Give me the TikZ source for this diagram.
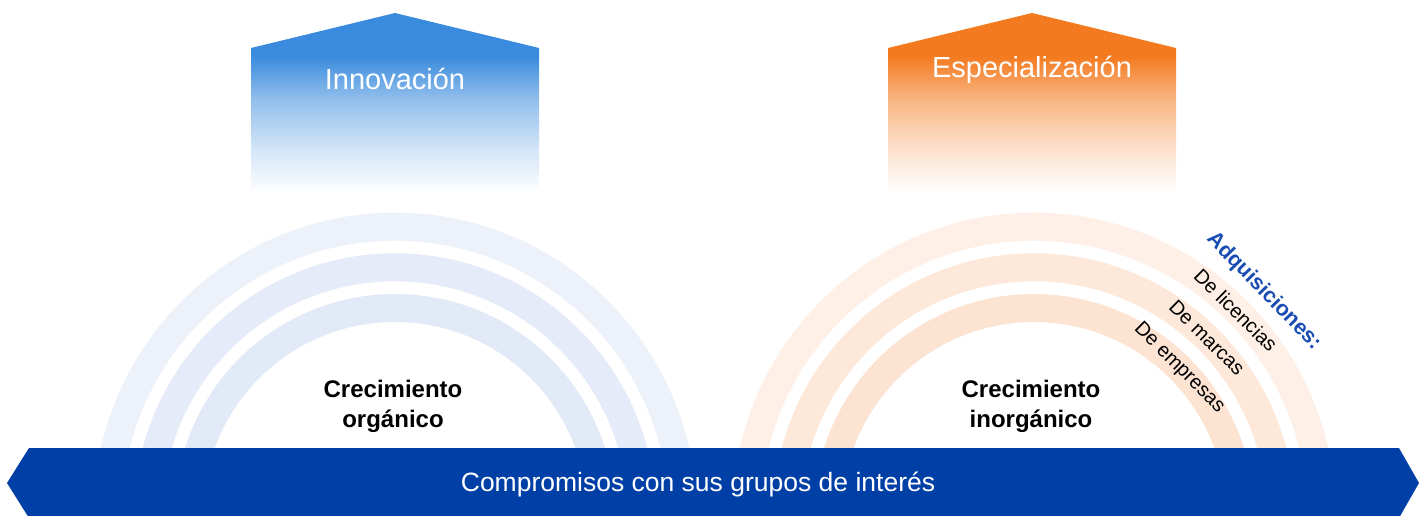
\documentclass[tikz,border=0pt]{standalone}
\usepackage{fontspec}
\setmainfont{Liberation Sans}
\usetikzlibrary{shapes.geometric}
\definecolor{topblue}{HTML}{3A8BDD}
\definecolor{toporange}{HTML}{F47A1F}
\definecolor{bannerblue}{HTML}{003FA6}
\definecolor{labelblue}{HTML}{1A4DB3}
\definecolor{bA}{HTML}{EDF1FA}
\definecolor{bB}{HTML}{E5EBF8}
\definecolor{bC}{HTML}{E2E9F7}
\definecolor{oA}{HTML}{FEF0E6}
\definecolor{oB}{HTML}{FDE8DA}
\definecolor{oC}{HTML}{FCE3D2}
\pgfdeclareverticalshading{bluefade}{100bp}{color(0bp)=(white); color(25.5bp)=(white); color(37.4bp)=(topblue!22!white); color(51.1bp)=(topblue!55!white); color(63.2bp)=(topblue); color(100bp)=(topblue)}
\pgfdeclareverticalshading{orangefade}{100bp}{color(0bp)=(white); color(25.5bp)=(white); color(37.4bp)=(toporange!22!white); color(51.1bp)=(toporange!55!white); color(63.2bp)=(toporange); color(100bp)=(toporange)}
\begin{document}
\begin{tikzpicture}[x=1pt,y=1pt,
  band/.style={line width=28pt},
  toptext/.style={text=white,font=\fontsize{29}{34}\selectfont,inner sep=0pt,anchor=base},
  growtext/.style={text=black,font=\bfseries\fontsize{24}{30}\selectfont,inner sep=0pt,anchor=base},
  arclabel/.style={text=black,font=\fontsize{20}{24}\selectfont,inner sep=0pt},
  acqlabel/.style={text=labelblue,font=\bfseries\fontsize{21.5}{26}\selectfont,inner sep=0pt},
  bannertext/.style={text=white,font=\fontsize{26.5}{30}\selectfont,inner sep=0pt,anchor=base}]
\useasboundingbox (0,0) rectangle (1428,-515);
\fill[white] (0,0) rectangle (1428,-515);
% arc centres
\coordinate (cL) at (395,-514);
\coordinate (cR) at (1034,-514);
% left arcs (blue)
\draw[band,bA] ([shift={(287.3,0)}]cL) arc[start angle=0,end angle=180,radius=287.3];
\draw[band,bB] ([shift={(246.7,0)}]cL) arc[start angle=0,end angle=180,radius=246.7];
\draw[band,bC] ([shift={(206,0)}]cL) arc[start angle=0,end angle=180,radius=206];
% right arcs (orange)
\draw[band,oA] ([shift={(287.3,0)}]cR) arc[start angle=0,end angle=180,radius=287.3];
\draw[band,oB] ([shift={(246.7,0)}]cR) arc[start angle=0,end angle=180,radius=246.7];
\draw[band,oC] ([shift={(206,0)}]cR) arc[start angle=0,end angle=180,radius=206];
% top pentagons
\path[shading=bluefade] (251,-195) -- (251,-48) -- (395,-13) -- (539,-48) -- (539,-195) -- cycle;
\path[shading=orangefade] (888,-195) -- (888,-48) -- (1032,-13) -- (1176,-48) -- (1176,-195) -- cycle;
\node[toptext] (innov) at (395,-89) {Innovación};
\node[toptext] (espec) at (1032,-77) {Especialización};
% growth texts
\node[growtext] (organicoA) at (393,-397) {Crecimiento};
\node[growtext] (organicoB) at (393,-427) {orgánico};
\node[growtext] (inorganicoA) at (1031,-397) {Crecimiento};
\node[growtext] (inorganicoB) at (1031,-427) {inorgánico};
% arc labels
\node[acqlabel,rotate=-45.9] (adq) at ([shift={(44.1:320)}]cR) {Adquisiciones:};
\node[arclabel,rotate=-44.7] (lic) at ([shift={(45.3:287)}]cR) {De licencias};
\node[arclabel,rotate=-44.5] (mar) at ([shift={(45.5:247)}]cR) {De marcas};
\node[arclabel,rotate=-44.8] (emp) at ([shift={(45.2:206)}]cR) {De empresas};
% banner
\fill[bannerblue] (29,-448) -- (1399,-448) -- (1419,-483) -- (1399,-518) -- (29,-518) -- (7,-483) -- cycle;
\node[bannertext] (banner) at (698,-491) {Compromisos con sus grupos de interés};
\end{tikzpicture}
\end{document}
